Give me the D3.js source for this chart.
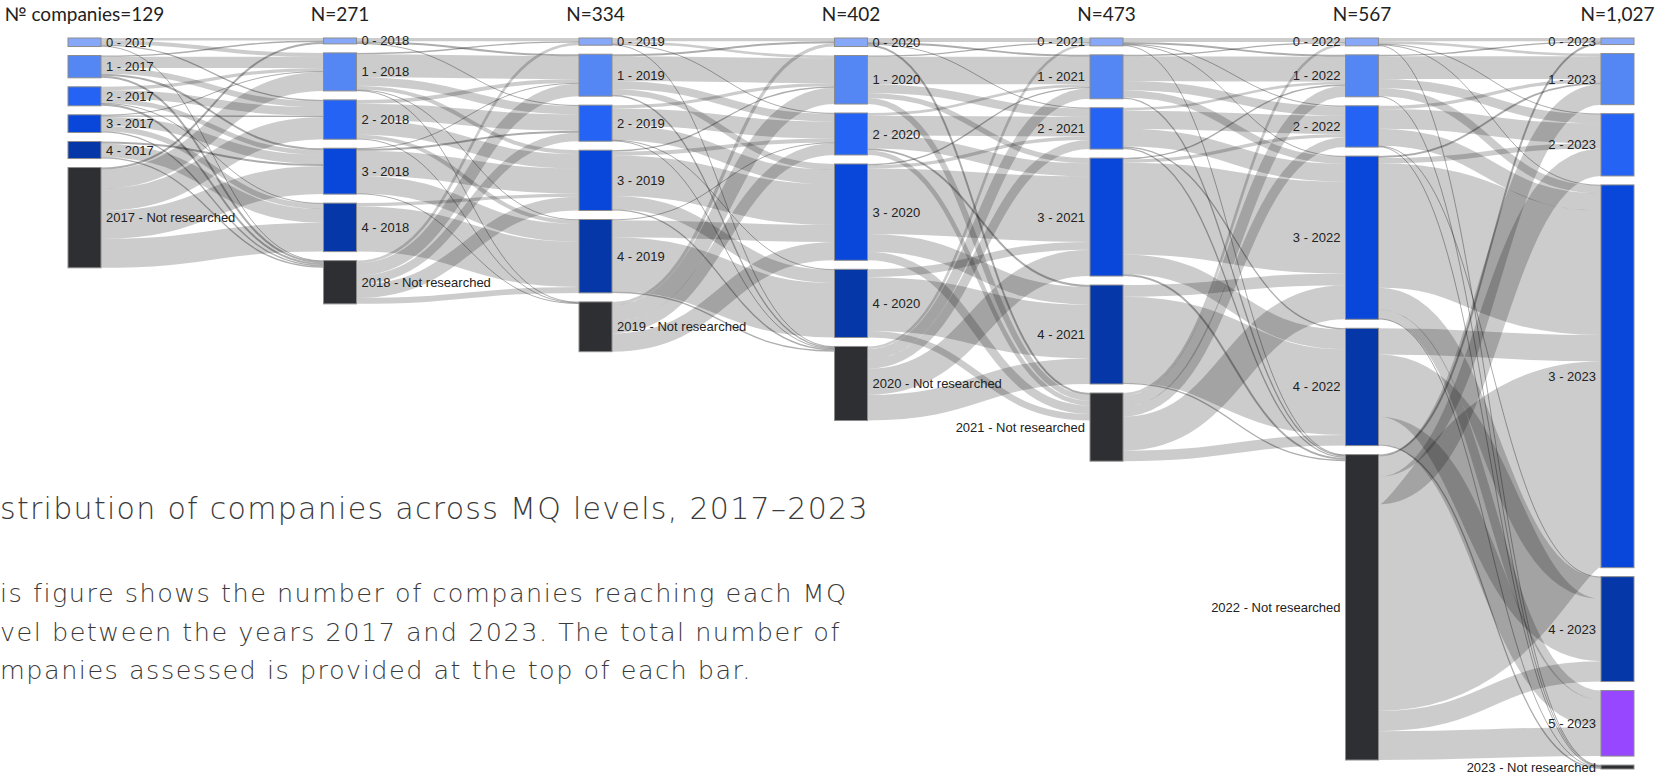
<!DOCTYPE html>
<meta charset="utf-8">
<head>
  <meta charset="utf-8">
  <script src="https://d3js.org/d3.v7.min.js"></script>
  <style>
    body { margin: 0; background: #fff; overflow: hidden; }
    .node-label { font-family: "Liberation Sans", Arial, sans-serif; font-size: 13px; fill: #222; }
    .header { font-family: Lato, "DejaVu Sans", sans-serif; font-size: 19px; fill: #222; }
    .title { font-family: "DejaVu Sans", sans-serif; font-weight: 200; fill: #3a3a3a; }
  </style>
</head>
<body>
<svg width="1665" height="775"></svg>
<script>
// years (columns) and the header over each column
var years = [2017, 2018, 2019, 2020, 2021, 2022, 2023];
var headers = ["№ companies=129", "N=271", "N=334", "N=402", "N=473", "N=567", "N=1,027"];
// MQ levels, last one = not researched that year
var levels = ["0", "1", "2", "3", "4", "5", "NR"];
var levelColors = ["#87a7f8", "#5587f4", "#2463f4", "#0947da", "#0537a9", "#9747ff", "#2e2f33"];

// flows between consecutive years: rows = level in year t, cols = level in year t+1
//                to: 0   1   2    3    4   5  NR
var flows2017 = [ [ 4,  6,  2,   0,   0,  0,  1],
                  [ 2, 17,  9,   3,   0,  0,  3],
                  [ 0,  5, 13,   7,   1,  0,  3],
                  [ 0,  1,  2,  14,   8,  0,  2],
                  [ 0,  0,  0,   3,  21,  0,  2],
                  [ 0,  0,  0,   0,   0,  0,  0],
                  [ 3, 29, 34,  43,  44,  0,  0] ];
var flows2018 = [ [ 5,  3,  1,   0,   0,  0,  0],
                  [ 2, 35, 13,   6,   1,  0,  1],
                  [ 0,  6, 25,  22,   6,  0,  1],
                  [ 0,  1,  3,  38,  27,  0,  1],
                  [ 0,  0,  0,   5,  69,  0,  0],
                  [ 0,  0,  0,   0,   0,  0,  0],
                  [ 4, 19, 13,  21,   9,  0,  0] ];
var flows2019 = [ [ 5,  4,  1,   0,   0,  0,  1],
                  [ 3, 38, 12,   9,   0,  0,  2],
                  [ 0,  5, 26,  22,   1,  0,  1],
                  [ 0,  2,  6,  62,  20,  0,  2],
                  [ 0,  0,  1,  26,  83,  0,  2],
                  [ 0,  0,  0,   0,   0,  0,  0],
                  [ 5, 25, 18,  28,   0,  0,  0] ];
var flows2020 = [ [ 6,  3,  1,   0,   0,  0,  3],
                  [ 2, 42, 13,   8,   0,  0,  9],
                  [ 0,  4, 30,  20,   3,  0,  7],
                  [ 0,  2,  5, 100,  27,  0, 13],
                  [ 0,  0,  0,  12,  82,  0, 10],
                  [ 0,  0,  0,   0,   0,  0,  0],
                  [ 4, 16, 14,  40,  39,  0,  0] ];
var flows2021 = [ [ 6,  3,  1,   1,   0,  0,  1],
                  [ 2, 38, 14,  11,   0,  0,  2],
                  [ 0,  4, 28,  27,   2,  0,  2],
                  [ 0,  2,  5, 140,  30,  0,  3],
                  [ 0,  0,  0,  18, 131,  0,  2],
                  [ 0,  0,  0,   0,   0,  0,  0],
                  [ 4, 17, 15,  52,  16,  0,  0] ];
var flows2022 = [ [ 5,  4,  1,   1,   0,  0,  1],
                  [ 2, 35, 14,  12,   0,  0,  1],
                  [ 0,  5, 30,  26,   1,  0,  1],
                  [ 0,  3,  8, 190,  33, 14,  1],
                  [ 0,  0,  0,  40,  95, 42,  2],
                  [ 0,  0,  0,   0,   0,  0,  0],
                  [ 3, 31, 42, 315,  31, 44,  0] ];
var transitions = [flows2017, flows2018, flows2019, flows2020, flows2021, flows2022];

var titleText = "Distribution of companies across MQ levels, 2017–2023";
var noteLines = ["This figure shows the number of companies reaching each MQ",
                 "level between the years 2017 and 2023. The total number of",
                 "companies assessed is provided at the top of each bar."];

var svg = d3.select("svg");
var nodeWidth = 33, nodePadding = 9;
var yTop = 38, yBottom = 769;

var x = d3.scaleLinear().domain([2017, 2023]).range([68, 1601]);

// nodes: value = max(inflow, outflow)
var columns = years.map(function(yr, c) {
  return levels.map(function(lv, i) {
    var out = c < transitions.length ? d3.sum(transitions[c][i]) : 0;
    var inn = c > 0 ? d3.sum(transitions[c - 1], function(row) { return row[i]; }) : 0;
    return {col: c, level: i, year: yr, value: Math.max(out, inn), sourceLinks: [], targetLinks: []};
  });
});

var ky = d3.min(columns, function(col) {
  var present = col.filter(function(n) { return n.value > 0; });
  return (yBottom - yTop - (present.length - 1) * nodePadding) / d3.sum(present, function(n) { return n.value; });
});

columns.forEach(function(col) {
  var y = yTop;
  col.forEach(function(n) {
    if (n.value <= 0) return;
    n.x0 = x(n.year); n.x1 = n.x0 + nodeWidth;
    n.y0 = y; n.y1 = y + n.value * ky;
    y = n.y1 + nodePadding;
  });
});

var links = [];
transitions.forEach(function(m, c) {
  m.forEach(function(row, i) {
    row.forEach(function(v, j) {
      if (v <= 0) return;
      var l = {source: columns[c][i], target: columns[c + 1][j], value: v, width: v * ky};
      l.source.sourceLinks.push(l);
      l.target.targetLinks.push(l);
      links.push(l);
    });
  });
});

// stack links inside each node
columns.forEach(function(col) {
  col.forEach(function(n) {
    var sy = n.y0, ty = n.y0;
    n.sourceLinks.forEach(function(l) { l.y0 = sy + l.width / 2; sy += l.width; });
    n.targetLinks.forEach(function(l) { l.y1 = ty + l.width / 2; ty += l.width; });
  });
});

var linkPath = d3.linkHorizontal()
  .source(function(d) { return [d.source.x1, d.y0]; })
  .target(function(d) { return [d.target.x0, d.y1]; });

svg.append("g")
  .attr("fill", "none")
  .selectAll("path")
  .data(links)
  .enter()
  .append("path")
  .attr("d", linkPath)
  .attr("stroke", "#000")
  .attr("stroke-opacity", function(d) { return d.width < 2 ? 0.32 : 0.2; })
  .attr("stroke-width", function(d) { return Math.max(1, d.width); });

var nodes = [].concat.apply([], columns).filter(function(n) { return n.value > 0; });

svg.append("g")
  .selectAll("rect")
  .data(nodes)
  .enter()
  .append("rect")
  .attr("x", function(d) { return d.x0; })
  .attr("y", function(d) { return d.y0; })
  .attr("width", nodeWidth)
  .attr("height", function(d) { return Math.max(3, d.y1 - d.y0); })
  .attr("fill", function(d) { return levelColors[d.level]; })
  .attr("stroke", "#8c8c8c")
  .attr("stroke-width", 1);

svg.append("g")
  .selectAll("text")
  .data(nodes)
  .enter()
  .append("text")
  .attr("class", "node-label")
  .attr("x", function(d) { return d.col < 4 ? d.x1 + 5 : d.x0 - 5; })
  .attr("y", function(d) { return (d.y0 + d.y1) / 2; })
  .attr("dy", "0.35em")
  .attr("text-anchor", function(d) { return d.col < 4 ? "start" : "end"; })
  .text(function(d) {
    return levels[d.level] === "NR" ? d.year + " - Not researched" : levels[d.level] + " - " + d.year;
  });

svg.append("g")
  .selectAll("text")
  .data(years)
  .enter()
  .append("text")
  .attr("class", "header")
  .attr("x", function(d) { return x(d) + nodeWidth / 2; })
  .attr("y", 21)
  .attr("text-anchor", "middle")
  .text(function(d, i) { return headers[i]; });

// caption, its first two letters hidden past the left edge like the original page
var clipChars = 2;
function clipLeft(sel) {
  sel.each(function() {
    d3.select(this).attr("x", -this.getSubStringLength(0, clipChars));
  });
}

svg.append("text")
  .attr("class", "title")
  .attr("y", 519)
  .style("font-size", "30px")
  .style("letter-spacing", "1.3px")
  .text(titleText)
  .call(clipLeft);

svg.append("g")
  .selectAll("text")
  .data(noteLines)
  .enter()
  .append("text")
  .attr("class", "title")
  .attr("y", function(d, i) { return 602 + i * 38.5; })
  .style("font-size", "25.5px")
  .style("letter-spacing", "1.5px")
  .text(function(d) { return d; })
  .call(clipLeft);
</script>
</body>
</html>
